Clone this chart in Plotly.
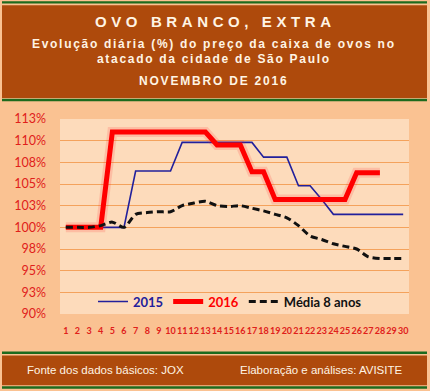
import plotly.graph_objects as go

days = list(range(1, 31))
tick_labels = [str(d) for d in days]

s2015 = [100, 100, 100, 100, 100, 100, 106.5, 106.5, 106.5, 106.5,
         109.8, 109.8, 109.8, 109.8, 109.8, 109.8, 109.8, 108.1, 108.1, 108.1,
         104.8, 104.8, 103.2, 101.5, 101.5, 101.5, 101.5, 101.5, 101.5, 101.5]
s2016 = [100, 100, 100, 100, 111.0, 111.0, 111.0, 111.0, 111.0, 111.0,
         111.0, 111.0, 111.0, 109.5, 109.5, 109.5, 106.4, 106.4, 103.2, 103.2,
         103.2, 103.2, 103.2, 103.2, 103.2, 106.3, 106.3, 106.3, None, None]
media8 = [100.0, 100.0, 100.0, 100.2, 100.6, 100.0, 101.5, 101.7, 101.8, 101.8,
          102.5, 102.8, 103.0, 102.5, 102.4, 102.5, 102.2, 101.9, 101.5, 101.1,
          100.2, 99.0, 98.6, 98.1, 97.8, 97.5, 96.6, 96.4, 96.4, 96.4]

ytick_vals = [90, 92.5, 95, 97.5, 100, 102.5, 105, 107.5, 110, 112.5]
ytick_text = ["90%", "93%", "95%", "98%", "100%", "103%", "105%", "108%", "110%", "113%"]

title = "OVO BRANCO, EXTRA"
subtitle1 = "Evolução diária (%) do preço da caixa de ovos no"
subtitle2 = "atacado da cidade de São Paulo"
period = "NOVEMBRO DE 2016"
source = "Fonte dos dados básicos: JOX"
credit = "Elaboração e análises: AVISITE"

W, H = 430, 391
L, R, T, B = 60, 409, 119, 314.5

def px(x):
    return (x - L) / (R - L)

def py(y):
    return (B - y) / (B - T)

BLUE = "#22209C"
RED = "#FF0000"
BROWN = "#AE4A0C"
GREEN = "#1D6A1D"
OUTER = "#FAC292"
INNER = "#FDDBBB"
GRID = "#F4A25C"
TXT = "#FFF4E4"

fig = go.Figure()
fig.add_trace(go.Scatter(x=days, y=s2015, mode="lines", name="<span style='color:%s'><b>2015</b></span>" % BLUE,
                         line=dict(color=BLUE, width=1.6)))
fig.add_trace(go.Scatter(x=days, y=s2016, mode="lines", showlegend=False, hoverinfo="skip",
                         line=dict(color="rgba(255,40,40,0.16)", width=10)))
fig.add_trace(go.Scatter(x=days, y=s2016, mode="lines", name="<span style='color:%s'><b>2016</b></span>" % RED,
                         line=dict(color=RED, width=5)))
fig.add_trace(go.Scatter(x=days, y=media8, mode="lines", name="<b>Média 8 anos</b>",
                         line=dict(color="#111111", width=3, dash="7px,4px", shape="spline", smoothing=0.7)))

shapes = []
def rect(x0, y0, x1, y1, color):
    shapes.append(dict(type="rect", xref="paper", yref="paper", x0=px(x0), x1=px(x1), y0=py(y0), y1=py(y1),
                       fillcolor=color, line=dict(width=0), layer="below"))

rect(2, 1, 427, 3.3, GREEN)
rect(2, 5, 427, 98, BROWN)
rect(2, 98.7, 427, 101.3, GREEN)
rect(2, 352, 427, 354.5, GREEN)
rect(2, 356, 427, 386, BROWN)
rect(2, 387, 427, 389.5, GREEN)

annotations = []
def txt(x, y, s, size, color, anchor="center", bold=True, spacing=None, family="Liberation Sans"):
    if spacing is not None:
        s = "<span style='letter-spacing:%spx'>%s</span>" % (spacing, s)
    if bold:
        s = "<b>" + s + "</b>"
    annotations.append(dict(xref="paper", yref="paper", x=px(x), y=py(y), text=s, showarrow=False,
                            xanchor=anchor, yanchor="middle", font=dict(family=family, size=size, color=color)))

txt(215, 21.5, title, 15, TXT, spacing=4.6)
txt(214, 44, subtitle1, 12, TXT, spacing=1.7)
txt(214, 59, subtitle2, 12, TXT, spacing=1.7)
txt(214, 81, period, 12, TXT, spacing=1.8)
txt(25, 371, source, 11.5, TXT, anchor="left", bold=False)
txt(404, 371, credit, 11.5, TXT, anchor="right", bold=False)

fig.update_layout(
    width=W, height=H,
    margin=dict(l=L, r=W - R, t=T, b=H - B, pad=0),
    paper_bgcolor=OUTER,
    plot_bgcolor=INNER,
    shapes=shapes,
    annotations=annotations,
    showlegend=True,
    legend=dict(orientation="h", x=px(93), y=py(302), xanchor="left", yanchor="middle",
                bgcolor="rgba(0,0,0,0)", font=dict(family="Lato", size=13, color="#111111"),
                tracegroupgap=0),
    xaxis=dict(range=[0.5, 30.5], tickmode="array", tickvals=days, ticktext=tick_labels,
               showgrid=False, zeroline=False, showline=False, ticks="", tickangle=0,
               tickfont=dict(family="Lato", size=9, color="#E0201A", weight="bold"),
               ticklabelstandoff=10, fixedrange=True),
    yaxis=dict(range=[90, 112.5], tickmode="array", tickvals=ytick_vals, ticktext=ytick_text,
               showgrid=True, gridcolor=GRID, gridwidth=1.3, zeroline=False, showline=False, ticks="",
               tickfont=dict(family="Lato", size=12.5, color="#E0201A"),
               ticklabelstandoff=13, fixedrange=True),
)

fig.write_html("out.html", config={"displayModeBar": False},
               post_script="document.body.style.margin='0';")
